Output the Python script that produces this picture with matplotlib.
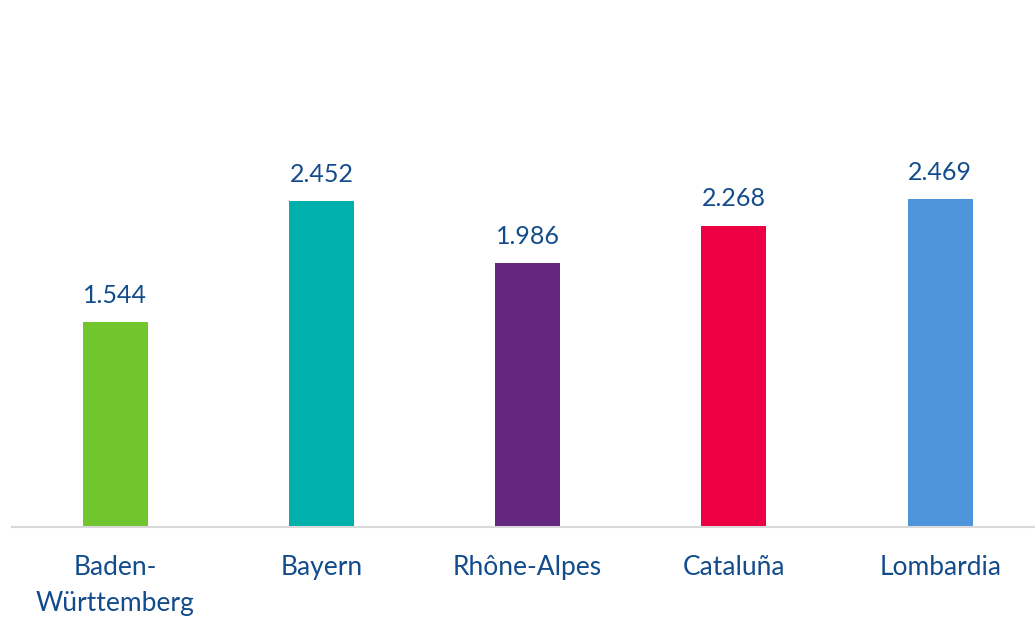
import matplotlib.pyplot as plt

# data
regions = ["Baden-\nWürttemberg", "Bayern", "Rhône-Alpes", "Cataluña", "Lombardia"]
values = [1.544, 2.452, 1.986, 2.268, 2.469]
labels = ["1.544", "2.452", "1.986", "2.268", "2.469"]
colors = ["#70C62C", "#00B0AA", "#64267F", "#EC0043", "#4E94DA"]

text_color = "#134C8C"
plt.rcParams['font.family'] = ['Lato', 'DejaVu Sans']

fig = plt.figure(figsize=(10.35, 6.18), dpi=100)
ax = fig.add_axes([12 / 1035, 91 / 618, 1 - 12 / 1035, 527 / 618])

x = list(range(len(regions)))
ax.bar(x, values, width=0.315, color=colors, zorder=2)

for xi, v, lab in zip(x, values, labels):
    ax.annotate(lab, (xi, v), xytext=(0, 11), textcoords="offset points",
                ha="center", va="bottom", fontsize=18, color=text_color)

ax.set_xlim(-0.5, 4.46)
ax.set_ylim(0, 3.965)
ax.set_xticks(x)
ax.set_xticklabels(regions, fontsize=19, color=text_color, linespacing=1.55)
ax.tick_params(axis="x", length=0, pad=20)
ax.set_yticks([])

for s in ["top", "right", "left"]:
    ax.spines[s].set_visible(False)
ax.spines["bottom"].set_color("#D9D9D9")
ax.spines["bottom"].set_linewidth(1.5)

fig.savefig("out.png", dpi=100)
